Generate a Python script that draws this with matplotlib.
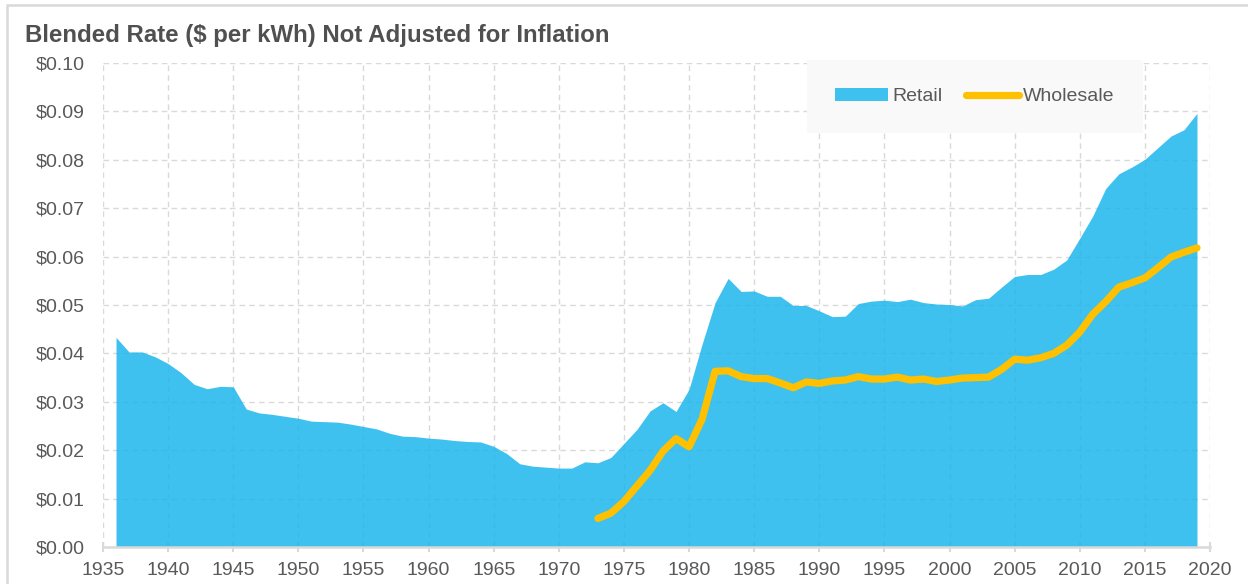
import matplotlib.pyplot as plt
from matplotlib.patches import Rectangle, Patch
from matplotlib.lines import Line2D
from matplotlib.ticker import FuncFormatter, MultipleLocator

plt.rcParams['font.family'] = ['Liberation Sans', 'DejaVu Sans']

# retail blended rate, 1936-2019 ($ per kWh)
retail_years = list(range(1936, 2020))
retail = [
    0.0433, 0.0403, 0.0403, 0.0393, 0.0379, 0.0360, 0.0336, 0.0327, 0.0332, 0.0331,  # 1936-1945
    0.0285, 0.0277, 0.0274, 0.0270, 0.0266, 0.0260, 0.0259, 0.0258, 0.0254, 0.0249,  # 1946-1955
    0.0244, 0.0235, 0.0229, 0.0228, 0.0225, 0.0223, 0.0220, 0.0218, 0.0217, 0.0208,  # 1956-1965
    0.0193, 0.0172, 0.0167, 0.0165, 0.0163, 0.0163, 0.0176, 0.0174, 0.0185, 0.0214,  # 1966-1975
    0.0243, 0.0281, 0.0298, 0.0280, 0.0326, 0.0419, 0.0505, 0.0555, 0.0528, 0.0529,  # 1976-1985
    0.0518, 0.0518, 0.0499, 0.0499, 0.0488, 0.0476, 0.0477, 0.0503, 0.0508, 0.0510,  # 1986-1995
    0.0507, 0.0512, 0.0505, 0.0502, 0.0501, 0.0498, 0.0511, 0.0514, 0.0537, 0.0559,  # 1996-2005
    0.0563, 0.0563, 0.0574, 0.0593, 0.0638, 0.0684, 0.0741, 0.0771, 0.0785, 0.0801,  # 2006-2015
    0.0825, 0.0849, 0.0862, 0.0896,                                                  # 2016-2019
]

# wholesale blended rate, 1973-2019
wholesale_years = list(range(1973, 2020))
wholesale = [
    0.0059, 0.0070, 0.0094, 0.0126, 0.0158, 0.0198, 0.0224, 0.0207, 0.0264, 0.0363,  # 1973-1982
    0.0364, 0.0352, 0.0348, 0.0348, 0.0339, 0.0329, 0.0341, 0.0338, 0.0343, 0.0345,  # 1983-1992
    0.0352, 0.0347, 0.0347, 0.0351, 0.0345, 0.0347, 0.0342, 0.0345, 0.0349, 0.0350,  # 1993-2002
    0.0351, 0.0367, 0.0388, 0.0386, 0.0391, 0.0400, 0.0417, 0.0444, 0.0481, 0.0507,  # 2003-2012
    0.0537, 0.0546, 0.0556, 0.0577, 0.0599, 0.0609, 0.0618,                          # 2013-2019
]

W, H = 1248, 584
fig = plt.figure(figsize=(W / 100, H / 100), dpi=100)
ax = fig.add_axes([103 / W, 1 - 547 / H, (1210 - 103) / W, (547 - 63) / H])

# card border (left and top edges visible)
fig.patches.append(Rectangle((6.5 / W, -0.1), 1.2, 1.1 - 5.5 / H, transform=fig.transFigure,
                             fill=False, edgecolor='#d9d9d9', linewidth=1.8))

ax.fill_between(retail_years, retail, 0, color='#1db6ed', alpha=0.85, linewidth=0, zorder=2)
ax.plot(wholesale_years, wholesale, color='#ffc000', linewidth=5.2, solid_capstyle='round',
        solid_joinstyle='round', zorder=3)

ax.set_xlim(1935, 2020)
ax.set_ylim(0, 0.10)
ax.xaxis.set_major_locator(MultipleLocator(5))
ax.yaxis.set_major_locator(MultipleLocator(0.01))
ax.yaxis.set_major_formatter(FuncFormatter(lambda v, p: f"${v:.2f}"))

ax.grid(True, color='#d9d9d9', linestyle=(0, (4, 3)), linewidth=1.0, zorder=0)
ax.set_axisbelow(True)
for s in ['top', 'right', 'left']:
    ax.spines[s].set_visible(False)
ax.spines['bottom'].set_color('#d9d9d9')
ax.spines['bottom'].set_linewidth(1.8)
ax.tick_params(axis='x', direction='inout', length=7, width=1.5, color='#d9d9d9',
               labelsize=14, labelcolor='#595959', pad=7)
ax.tick_params(axis='y', length=0, labelsize=14, labelcolor='#595959', pad=13)

fig.text(25 / W, 1 - 42 / H, "Blended Rate ($ per kWh) Not Adjusted for Inflation",
         fontsize=17.3, fontweight='bold', color='#505050', ha='left', va='baseline')

handles = [Patch(facecolor='#3fc1f0', edgecolor='none'),
           Line2D([0], [0], color='#ffc000', linewidth=5.2, solid_capstyle='round')]
leg = ax.legend(handles, ['Retail', 'Wholesale'], ncol=2, loc='upper left',
                bbox_to_anchor=(807 / W, 1 - 60 / H), bbox_transform=fig.transFigure,
                frameon=True, fancybox=False, facecolor='#f9f9f9', edgecolor='none',
                framealpha=1, fontsize=14, handlelength=2.7, handleheight=0.6,
                handletextpad=0.25, columnspacing=1.2, borderpad=1.45, borderaxespad=0)
for t in leg.get_texts():
    t.set_color('#595959')

fig.savefig('out.png', dpi=100)
